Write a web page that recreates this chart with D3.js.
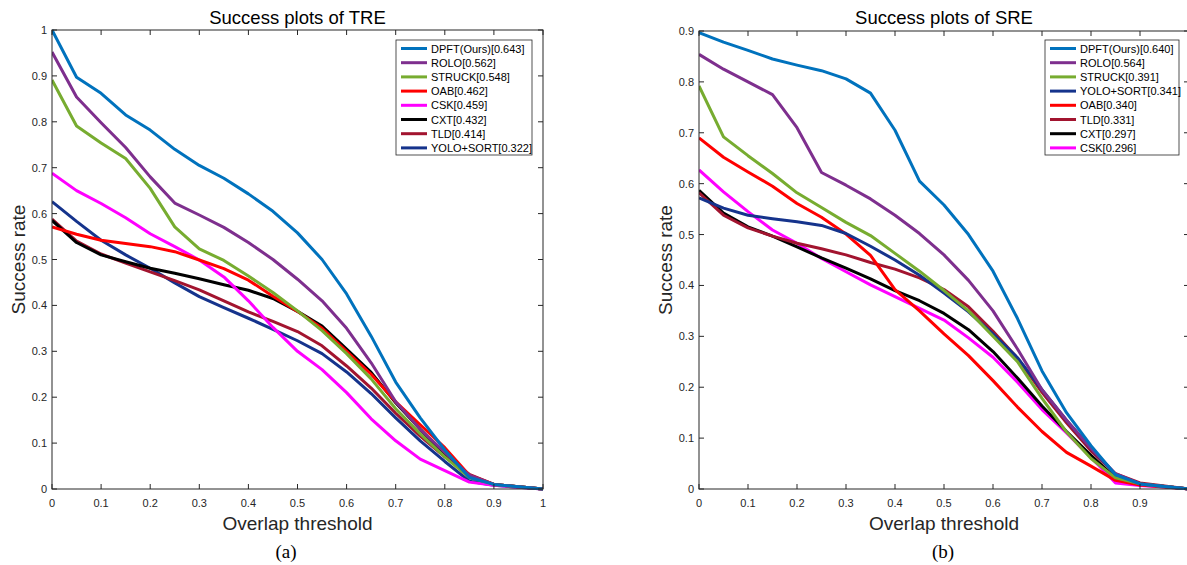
<!DOCTYPE html>
<html>
<head>
<meta charset="utf-8">
<script src="https://cdn.jsdelivr.net/npm/d3@7"></script>
<style>
  body { margin: 0; background: #fff; }
  svg { display: block; }
  .tick-label { font-family: "Liberation Sans", Arial, sans-serif; font-size: 11px; fill: #262626; }
  .title { font-family: "Liberation Sans", Arial, sans-serif; font-size: 18.5px; fill: #000; }
  .axis-label { font-family: "Liberation Sans", Arial, sans-serif; font-size: 19px; fill: #262626; }
  .caption { font-family: "Liberation Serif", "Times New Roman", serif; font-size: 19px; fill: #000; }
  .legend-text { font-family: "Liberation Sans", Arial, sans-serif; font-size: 11px; fill: #000; }
</style>
</head>
<body>
<div id="chart"></div>
<script>
// thresholds sampled every 0.05
const thresholds = [0, 0.05, 0.1, 0.15, 0.2, 0.25, 0.3, 0.35, 0.4, 0.45, 0.5,
  0.55, 0.6, 0.65, 0.7, 0.75, 0.8, 0.85, 0.9, 0.95, 1];

const treXTicks = [0, 0.1, 0.2, 0.3, 0.4, 0.5, 0.6, 0.7, 0.8, 0.9, 1];
const sreXTicks = [0, 0.1, 0.2, 0.3, 0.4, 0.5, 0.6, 0.7, 0.8, 0.9]; // "1" falls off the page
const treYTicks = [0, 0.1, 0.2, 0.3, 0.4, 0.5, 0.6, 0.7, 0.8, 0.9, 1];
const sreYTicks = [0, 0.1, 0.2, 0.3, 0.4, 0.5, 0.6, 0.7, 0.8, 0.9];

// tracker colours
const COLORS = {
  'DPFT': '#0072BD', 'ROLO': '#7E2F8E', 'STRUCK': '#77AC30', 'OAB': '#FF0000',
  'CSK': '#FF00FF', 'CXT': '#000000', 'TLD': '#A2142F', 'YOLO+SORT': '#15338C'
};

// --- TRE panel (a) ---
const treDPFT  = [1.0, 0.897, 0.862, 0.815, 0.782, 0.74, 0.705, 0.677, 0.643, 0.605, 0.558, 0.5, 0.425, 0.333, 0.233, 0.155, 0.085, 0.025, 0.01, 0.005, 0];
const treROLO  = [0.952, 0.854, 0.798, 0.744, 0.68, 0.623, 0.597, 0.57, 0.537, 0.5, 0.457, 0.41, 0.35, 0.275, 0.19, 0.13, 0.08, 0.03, 0.01, 0.005, 0];
const treSTRUCK = [0.891, 0.791, 0.754, 0.72, 0.655, 0.571, 0.523, 0.498, 0.464, 0.428, 0.388, 0.345, 0.295, 0.24, 0.175, 0.12, 0.07, 0.025, 0.01, 0.005, 0];
const treOAB   = [0.571, 0.555, 0.542, 0.535, 0.528, 0.517, 0.499, 0.48, 0.455, 0.42, 0.387, 0.35, 0.3, 0.25, 0.19, 0.14, 0.09, 0.03, 0.01, 0.005, 0];
const treCSK   = [0.688, 0.65, 0.622, 0.591, 0.556, 0.528, 0.499, 0.462, 0.41, 0.352, 0.3, 0.26, 0.21, 0.153, 0.105, 0.065, 0.04, 0.015, 0.008, 0.004, 0];
const treCXT   = [0.585, 0.537, 0.51, 0.495, 0.481, 0.47, 0.458, 0.445, 0.433, 0.415, 0.387, 0.355, 0.305, 0.254, 0.188, 0.13, 0.075, 0.025, 0.01, 0.005, 0];
const treTLD   = [0.588, 0.54, 0.512, 0.492, 0.473, 0.454, 0.434, 0.41, 0.386, 0.365, 0.343, 0.312, 0.268, 0.22, 0.165, 0.115, 0.07, 0.032, 0.01, 0.005, 0];
const treYOLO  = [0.626, 0.583, 0.542, 0.51, 0.481, 0.449, 0.419, 0.395, 0.372, 0.348, 0.323, 0.295, 0.255, 0.208, 0.155, 0.105, 0.06, 0.017, 0.008, 0.004, 0];

const treNames  = ['DPFT', 'ROLO', 'STRUCK', 'OAB', 'CSK', 'CXT', 'TLD', 'YOLO+SORT'];
const treLabels = ['DPFT(Ours)[0.643]', 'ROLO[0.562]', 'STRUCK[0.548]', 'OAB[0.462]',
  'CSK[0.459]', 'CXT[0.432]', 'TLD[0.414]', 'YOLO+SORT[0.322]'];
const treValues = [treDPFT, treROLO, treSTRUCK, treOAB, treCSK, treCXT, treTLD, treYOLO];

// --- SRE panel (b) ---
const sreDPFT  = [0.897, 0.878, 0.862, 0.845, 0.833, 0.822, 0.806, 0.778, 0.705, 0.605, 0.558, 0.5, 0.428, 0.335, 0.232, 0.15, 0.085, 0.028, 0.01, 0.005, 0];
const sreROLO  = [0.854, 0.825, 0.8, 0.775, 0.71, 0.622, 0.597, 0.57, 0.538, 0.502, 0.46, 0.41, 0.35, 0.275, 0.195, 0.135, 0.08, 0.03, 0.01, 0.005, 0];
const sreSTRUCK = [0.792, 0.692, 0.655, 0.62, 0.582, 0.553, 0.524, 0.498, 0.463, 0.428, 0.39, 0.35, 0.3, 0.25, 0.178, 0.112, 0.06, 0.022, 0.01, 0.005, 0];
const sreYOLO  = [0.572, 0.552, 0.538, 0.531, 0.525, 0.518, 0.502, 0.477, 0.45, 0.42, 0.385, 0.348, 0.305, 0.258, 0.195, 0.135, 0.08, 0.028, 0.01, 0.005, 0];
const sreOAB   = [0.69, 0.652, 0.623, 0.595, 0.561, 0.534, 0.501, 0.459, 0.392, 0.35, 0.305, 0.262, 0.213, 0.161, 0.113, 0.072, 0.045, 0.017, 0.008, 0.004, 0];
const sreTLD   = [0.582, 0.538, 0.513, 0.497, 0.483, 0.472, 0.46, 0.445, 0.432, 0.415, 0.392, 0.358, 0.31, 0.257, 0.19, 0.13, 0.075, 0.03, 0.012, 0.006, 0];
const sreCXT   = [0.587, 0.542, 0.515, 0.497, 0.476, 0.454, 0.434, 0.413, 0.39, 0.37, 0.345, 0.313, 0.27, 0.218, 0.163, 0.113, 0.066, 0.022, 0.01, 0.005, 0];
const sreCSK   = [0.627, 0.584, 0.545, 0.509, 0.483, 0.453, 0.427, 0.401, 0.378, 0.355, 0.332, 0.297, 0.259, 0.21, 0.156, 0.11, 0.062, 0.012, 0.007, 0.004, 0];

const sreNames  = ['DPFT', 'ROLO', 'STRUCK', 'YOLO+SORT', 'OAB', 'TLD', 'CXT', 'CSK'];
const sreLabels = ['DPFT(Ours)[0.640]', 'ROLO[0.564]', 'STRUCK[0.391]', 'YOLO+SORT[0.341]',
  'OAB[0.340]', 'TLD[0.331]', 'CXT[0.297]', 'CSK[0.296]'];
const sreValues = [sreDPFT, sreROLO, sreSTRUCK, sreYOLO, sreOAB, sreTLD, sreCXT, sreCSK];

const W = 1187, H = 565;

const svg = d3.select('#chart').append('svg')
  .attr('width', W)
  .attr('height', H);

/* ------------------------------------------------------------------ */
/*  One success-plot panel                                             */
/* ------------------------------------------------------------------ */

function drawPanel(p) {
  const x = d3.scaleLinear().domain([0, 1]).range([p.left, p.right]);
  const y = d3.scaleLinear().domain([0, p.yMax]).range([p.bottom, p.top]);
  const frame = '#262626';
  const tickLen = 5;

  const g = svg.append('g');

  // curves, clipped to the panel
  const clipId = 'clip-' + p.id;
  svg.append('clipPath').attr('id', clipId)
    .append('rect')
    .attr('x', p.left).attr('y', p.top - 4)
    .attr('width', p.right - p.left).attr('height', p.bottom - p.top + 8);

  const line = d3.line()
    .x((d, i) => x(thresholds[i]))
    .y(d => y(d));

  const series = p.names.map((n, i) => ({ name: n, values: p.values[i] }));

  // draw the first legend entry last so it sits on top like the original
  g.append('g').attr('clip-path', `url(#${clipId})`)
    .selectAll('path')
    .data(series.slice().reverse())
    .enter().append('path')
    .attr('d', d => line(d.values))
    .attr('fill', 'none')
    .attr('stroke', d => COLORS[d.name])
    .attr('stroke-width', 3)
    .attr('stroke-linejoin', 'round');

  // box
  g.append('rect')
    .attr('x', p.left).attr('y', p.top)
    .attr('width', p.right - p.left).attr('height', p.bottom - p.top)
    .attr('fill', 'none').attr('stroke', frame).attr('stroke-width', 1);

  // x ticks (inward, top and bottom)
  p.xTicks.forEach(t => {
    const px = x(t);
    g.append('line').attr('x1', px).attr('x2', px)
      .attr('y1', p.bottom).attr('y2', p.bottom - tickLen).attr('stroke', frame);
    g.append('line').attr('x1', px).attr('x2', px)
      .attr('y1', p.top).attr('y2', p.top + tickLen).attr('stroke', frame);
    g.append('text').attr('class', 'tick-label')
      .attr('x', px).attr('y', p.bottom + 18)
      .attr('text-anchor', 'middle')
      .text(d3.format('~g')(t));
  });

  // y ticks (inward, left and right)
  p.yTicks.forEach(t => {
    const py = y(t);
    g.append('line').attr('x1', p.left).attr('x2', p.left + tickLen)
      .attr('y1', py).attr('y2', py).attr('stroke', frame);
    g.append('line').attr('x1', p.right).attr('x2', p.right - tickLen)
      .attr('y1', py).attr('y2', py).attr('stroke', frame);
    g.append('text').attr('class', 'tick-label')
      .attr('x', p.left - 5).attr('y', py + 4)
      .attr('text-anchor', 'end')
      .text(d3.format('~g')(t));
  });

  const cx = (p.left + p.right) / 2;

  g.append('text').attr('class', 'title')
    .attr('x', cx).attr('y', 24)
    .attr('text-anchor', 'middle')
    .text(p.title);

  g.append('text').attr('class', 'axis-label')
    .attr('x', cx).attr('y', 530)
    .attr('text-anchor', 'middle')
    .text('Overlap threshold');

  g.append('text').attr('class', 'axis-label')
    .attr('transform', `translate(${p.left - 27}, ${(p.top + p.bottom) / 2}) rotate(-90)`)
    .attr('text-anchor', 'middle')
    .text('Success rate');

  g.append('text').attr('class', 'caption')
    .attr('x', p.captionX).attr('y', 558)
    .attr('text-anchor', 'middle')
    .text(p.caption);

  // legend
  const lg = g.append('g').attr('transform', `translate(${p.legendX}, 40)`);
  lg.append('rect')
    .attr('width', p.legendW).attr('height', 115)
    .attr('fill', '#fff').attr('stroke', frame).attr('stroke-width', 0.8);
  series.forEach((s, i) => {
    const ly = 8.5 + i * 14.2;
    lg.append('line')
      .attr('x1', 5).attr('x2', 31).attr('y1', ly).attr('y2', ly)
      .attr('stroke', COLORS[s.name]).attr('stroke-width', 3);
    lg.append('text').attr('class', 'legend-text')
      .attr('x', 35).attr('y', ly + 4)
      .text(p.labels[i]);
  });
}

drawPanel({
  id: 'tre', title: 'Success plots of TRE', caption: '(a)', captionX: 286,
  left: 52, right: 543, top: 30, bottom: 489, yMax: 1,
  xTicks: treXTicks, yTicks: treYTicks,
  names: treNames, labels: treLabels, values: treValues,
  legendX: 396, legendW: 136
});

drawPanel({
  id: 'sre', title: 'Success plots of SRE', caption: '(b)', captionX: 943,
  left: 699, right: 1189, top: 31, bottom: 489, yMax: 0.9,
  xTicks: sreXTicks, yTicks: sreYTicks,
  names: sreNames, labels: sreLabels, values: sreValues,
  legendX: 1045, legendW: 134
});
</script>
</body>
</html>
